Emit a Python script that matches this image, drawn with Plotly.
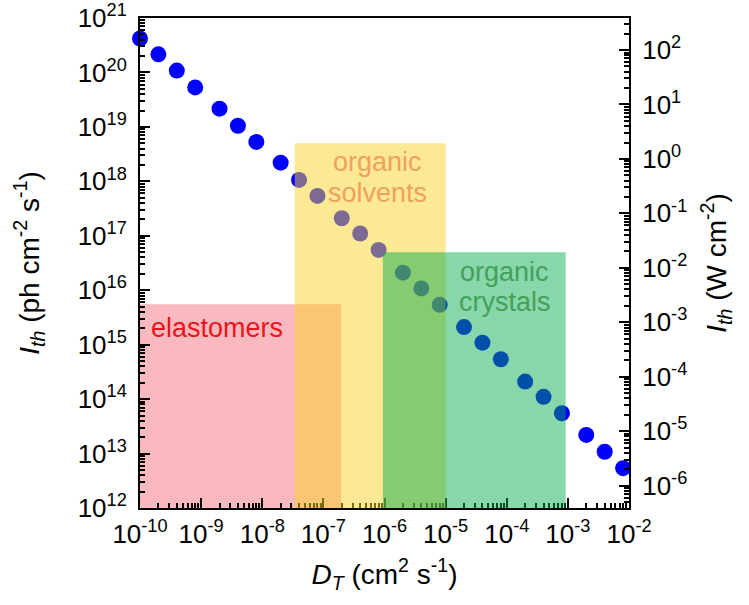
import plotly.graph_objects as go

# Thermal diffusivity (cm^2 s^-1) and threshold intensity (ph cm^-2 s^-1)
diffusivity = [1e-10, 2e-10, 4e-10, 8e-10, 2e-9, 4e-9, 8e-9, 2e-8, 4e-8, 8e-8,
               2e-7, 4e-7, 8e-7, 2e-6, 4e-6, 8e-6, 2e-5, 4e-5, 8e-5,
               2e-4, 4e-4, 8e-4, 2e-3, 4e-3, 8e-3]
threshold = [4.2e20, 2.15e20, 1.08e20, 5.3e19, 2.16e19, 1.05e19, 5.3e18, 2.2e18,
             1.06e18, 5.4e17, 2.1e17, 1.1e17, 5.5e16, 2.1e16, 1.08e16, 5.4e15,
             2.1e15, 1.09e15, 5.4e14, 2.1e14, 1.1e14, 5.5e13, 2.2e13, 1.08e13, 5.4e12]

# Decade exponents used for tick labels on each axis
x_exponents = [-10, -9, -8, -7, -6, -5, -4, -3, -2]
y_exponents = [12, 13, 14, 15, 16, 17, 18, 19, 20, 21]
y2_exponents = [-6, -5, -4, -3, -2, -1, 0, 1, 2]

# Material classes: diffusivity span and upper intensity bound
region_names = ["elastomers", "organic<br>solvents", "organic<br>crystals"]
region_x0 = [1e-10, 3.4e-8, 9.4e-7]
region_x1 = [1.95e-7, 1e-5, 9.2e-4]
region_ytop = [5.5e15, 5e18, 5e16]

# Right-axis range in W cm^-2 (same vertical extent as the left axis)
right_range_log = [-6.412, 2.588]

FONT = "Liberation Sans, Arial, sans-serif"


def decade_ticks(exps):
    return dict(tickvals=[10.0 ** e for e in exps],
                ticktext=[f"10<sup>{e}</sup>" for e in exps])


fig = go.Figure()

fig.add_trace(go.Scatter(
    x=diffusivity, y=threshold, mode="markers",
    marker=dict(color="#0000ff", size=16, line=dict(width=0)),
    cliponaxis=False, showlegend=False, hoverinfo="x+y",
))
# Empty trace so the secondary (W cm^-2) axis is drawn
fig.add_trace(go.Scatter(x=[], y=[], yaxis="y2", showlegend=False, hoverinfo="skip"))

fills = ["rgba(245,115,125,0.5)", "rgba(250,212,40,0.5)", "rgba(0,170,74,0.47)"]
layers = ["below", "above", "above"]
for x0, x1, yt, fc, ly in zip(region_x0, region_x1, region_ytop, fills, layers):
    fig.add_shape(type="rect", xref="x", yref="y", x0=x0, x1=x1, y0=1e12, y1=yt,
                  fillcolor=fc, line=dict(width=0), layer=ly)

# Region labels, one annotation per text line (log10 positions on the axes)
text_colors = ["#e8141e", "#f0a060", "#46a05a"]
text_x = [-9.853, -6.12, -4.03]
text_line_y = [[15.306], [18.355, 17.785], [16.34, 15.79]]
text_anchor = ["left", "center", "center"]
for name, tx, tys, tc, xa in zip(region_names, text_x, text_line_y, text_colors, text_anchor):
    for line, ty in zip(name.split("<br>"), tys):
        fig.add_annotation(x=tx, y=ty, xref="x", yref="y", text=line, showarrow=False,
                           xanchor=xa, yanchor="middle",
                           font=dict(family=FONT, size=27, color=tc))

axis_common = dict(
    type="log", showgrid=False, zeroline=False, automargin=False,
    showline=True, linecolor="black", linewidth=2, ticks="inside", ticklen=10,
    tickwidth=2, tickcolor="black", tickangle=0,
    tickfont=dict(family=FONT, size=26, color="black"),
    minor=dict(ticks="inside", ticklen=5, tickwidth=1.5, tickcolor="black", dtick="D1"),
    ticklabelstandoff=6,
)
title_font = dict(family=FONT, size=28, color="black")

fig.update_layout(
    width=749, height=605,
    margin=dict(l=140, r=120, t=18, b=97),
    plot_bgcolor="white", paper_bgcolor="white",
    xaxis=dict(axis_common, **decade_ticks(x_exponents), range=[-10, -2], mirror=True,
               ticklabelstandoff=2,
               title=dict(text="<i>D</i><sub><i>T</i></sub> (cm<sup>2</sup> s<sup>-1</sup>)",
                          font=title_font, standoff=16)),
    yaxis=dict(axis_common, **decade_ticks(y_exponents), range=[12, 21],
               title=dict(text="<i>I</i><sub><i>th</i></sub> (ph cm<sup>-2</sup> s<sup>-1</sup>)",
                          font=title_font, standoff=30)),
    yaxis2=dict(axis_common, **decade_ticks(y2_exponents), range=right_range_log,
                overlaying="y", side="right",
                title=dict(text="<i>I</i><sub><i>th</i></sub> (W cm<sup>-2</sup>)",
                           font=title_font, standoff=20)),
)

fig.write_html("out.html")
